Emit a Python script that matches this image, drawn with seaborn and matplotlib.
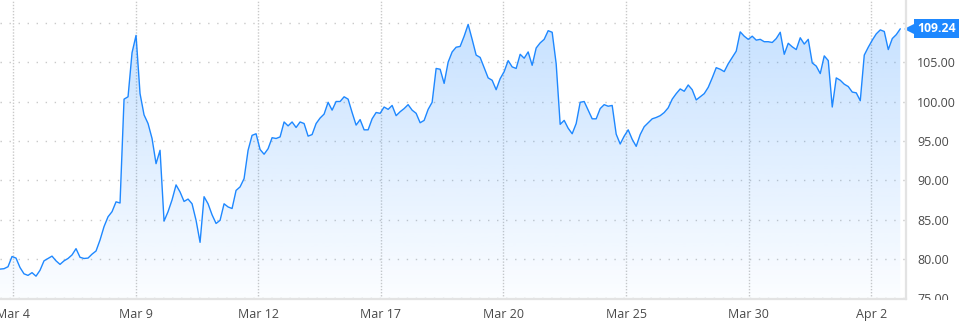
import numpy as np
import pandas as pd
import matplotlib
matplotlib.use("Agg")
import matplotlib.pyplot as plt
import matplotlib.transforms as mtransforms
from matplotlib.colors import to_rgb
import seaborn as sns

# ---- data -------------------------------------------------------------
prices = [
    78.7, 78.75, 79.0, 80.3, 80.1, 78.9, 78.1, 77.9, 78.25, 77.8, 78.55, 79.75,
    80.05, 80.35, 79.75, 79.3, 79.75, 80.05, 80.5, 81.3, 80.2, 80.05, 80.1, 80.6,
    81.0, 82.4, 84.1, 85.35, 86.0, 87.25, 87.1, 100.3, 100.6,
    106.2, 108.4, 101.0, 98.3, 97.2, 95.3, 92.1, 93.8, 84.8, 86.0, 87.5, 89.4,
    88.5, 87.3, 87.6, 87.0, 84.9, 82.1, 87.9, 87.0, 85.6, 84.5, 84.9, 87.0,
    86.6, 86.4, 88.7, 89.15, 90.2, 93.8, 95.7, 95.9,
    93.9, 93.3, 94.0, 95.4, 95.3, 95.5, 97.4, 96.9, 97.4, 96.7, 97.4, 97.2,
    95.6, 95.8, 97.2, 97.9, 98.4, 99.9, 98.9, 100.0, 100.0, 100.6, 100.3, 98.6,
    97.0, 97.7, 96.4, 96.4, 97.8, 98.6, 98.5, 99.3, 99.0,
    99.5, 98.2, 98.7, 99.1, 99.6, 98.9, 98.5, 97.3, 97.6, 99.0, 99.9, 104.2,
    104.1, 102.3, 105.0, 106.3, 106.9, 107.0, 108.3, 109.8, 107.9, 105.9, 105.6,
    104.3, 103.0, 102.7, 101.5, 102.9, 103.8, 105.2, 104.4, 104.2, 106.0,
    105.5, 106.3, 104.6, 106.8, 107.45, 107.9, 109.0, 108.8, 104.8, 97.1, 97.6,
    96.6, 95.9, 97.2, 99.9, 100.0, 98.9, 97.8, 97.8, 99.1, 99.6, 99.4, 99.5,
    95.85, 94.6, 95.6, 96.4, 95.2, 94.3, 95.8, 96.8, 97.3,
    97.8, 97.97, 98.2, 98.6, 99.2, 100.3, 101.0, 101.6, 101.3, 102.1, 101.5,
    100.2, 100.6, 101.0, 101.8, 103.0, 104.3, 104.1, 103.8, 104.8, 105.6, 106.4,
    108.85, 108.3, 107.9, 108.3, 107.8, 107.9, 107.6, 107.6, 107.5, 108.0, 108.8,
    106.0, 107.4, 106.95, 106.6, 108.1, 107.3, 107.9, 104.9, 104.5, 103.55,
    105.8, 105.2, 99.3, 103.0, 102.7, 102.2, 101.9, 101.2, 101.1, 100.1, 105.9,
    106.9, 107.8, 108.6, 109.1, 108.9, 106.6, 108.0, 108.5, 109.24,
]
# trading-day index (Mar 4 = 0) of first and last sample
session_start = -0.318
session_end = 21.71
tick_days = [0, 3, 6, 9, 12, 15, 18, 21]
tick_labels = ["Mar 4", "Mar 9", "Mar 12", "Mar 17", "Mar 20", "Mar 25", "Mar 30", "Apr 2"]
y_ticks = [75, 80, 85, 90, 95, 100, 105, 110]
last_price = 109.24

# ---- style ------------------------------------------------------------
sns.set_theme(style="white")
plt.rcParams["font.family"] = ["Open Sans", "DejaVu Sans"]

LINE = "#1e88ff"
GRID = "#c9c9c9"
AXIS = "#e3e3e3"
TEXT = "#4a4a4a"

df = pd.DataFrame({
    "day": np.linspace(session_start, session_end, len(prices)),
    "price": prices,
})

fig = plt.figure(figsize=(9.6, 3.26), dpi=100)
fig.patch.set_facecolor("white")
ax = fig.add_axes([0, 27 / 326, 906 / 960, 299 / 326])

xmin, xmax = session_start, 21.85
ymin, ymax = 74.9, 112.9

# gradient area fill
poly = ax.fill_between(df["day"], df["price"], ymin, facecolor="none",
                       edgecolor="none")
grad = np.zeros((256, 1, 4))
grad[..., :3] = to_rgb(LINE)
grad[:, 0, 3] = np.linspace(0.015, 0.27, 256)
im = ax.imshow(grad, extent=[xmin, xmax, ymin, ymax], origin="lower",
               aspect="auto", zorder=1, interpolation="bilinear")
im.set_clip_path(poly.get_paths()[0], ax.transData)

sns.lineplot(data=df, x="day", y="price", ax=ax, color=LINE, linewidth=1.0,
             zorder=3)

ax.set_xlim(xmin, xmax)
ax.set_ylim(ymin, ymax)
ax.set_xlabel("")
ax.set_ylabel("")

ax.set_xticks(tick_days)
ax.set_xticklabels(tick_labels)
ax.set_yticks(y_ticks)
ax.set_yticklabels([f"{v:.2f}" for v in y_ticks])
ax.yaxis.tick_right()
ax.get_yticklabels()[-1].set_visible(False)

ax.tick_params(axis="x", length=5, width=1, color="#cccccc", labelsize=9,
               labelcolor=TEXT, pad=1.5, direction="out")
ax.tick_params(axis="y", length=0, labelsize=9, labelcolor=TEXT, pad=8,
               right=False, left=False)

ax.grid(axis="y", color=GRID, linestyle=(0, (1, 5.5)), linewidth=1.0)
ax.grid(axis="x", color=GRID, linestyle=(0, (1, 1.2)), linewidth=1.0)
ax.set_axisbelow(True)

for side in ["top", "left"]:
    ax.spines[side].set_visible(False)
for side in ["right", "bottom"]:
    ax.spines[side].set_visible(True)
    ax.spines[side].set_color(AXIS)
    ax.spines[side].set_linewidth(1.6)

# last value tag
trans = mtransforms.blended_transform_factory(ax.transAxes, ax.transData)
ax.annotate(f"{last_price:.2f}", xy=(1, last_price), xycoords=trans,
            xytext=(11, 0), textcoords="offset pixels", ha="left",
            va="center", color="white", fontsize=8.8, fontweight="bold",
            annotation_clip=False,
            bbox=dict(boxstyle="square,pad=0.25", fc=LINE, ec="none"))
ax.plot([1.0045], [last_price], marker="<", markersize=8, color=LINE,
        transform=trans, clip_on=False, markeredgewidth=0)

# mask the part of the lowest y label that falls below the axis
fig.patches.append(plt.Rectangle((907 / 960, 0), 53 / 960, 26 / 326,
                                 transform=fig.transFigure, fc="white",
                                 ec="none", zorder=10))

fig.savefig("out.png", dpi=100, facecolor="white")
